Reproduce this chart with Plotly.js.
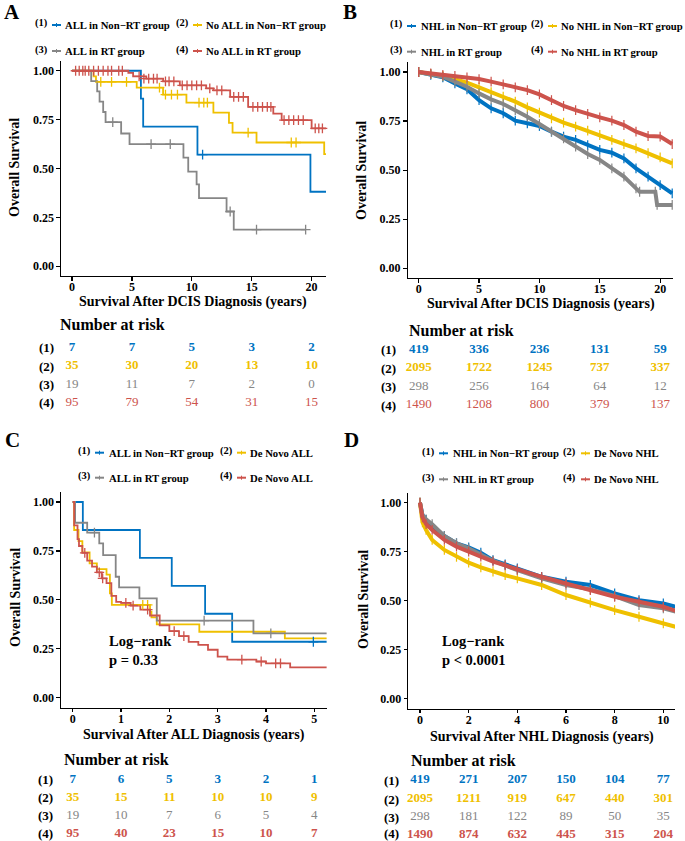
<!DOCTYPE html>
<html><head><meta charset="utf-8">
<script src="https://cdn.plot.ly/plotly-3.0.1.min.js"></script>
<style>html,body{margin:0;padding:0;background:#fff}</style>
</head><body><div id="chart" style="width:685px;height:841px"></div>
<script>
// ---------- DATA ----------
const groupColors = ['#0073C2', '#EFC000', '#868686', '#CD534C'];

// Panel A (DCIS, ALL)
const aLegend = ['ALL in Non\u2212RT group', 'No ALL in Non\u2212RT group', 'ALL in RT group', 'No ALL in RT group'];
const a1T = [0, 5.75, 5.94, 10.47, 19.9, 21.2];
const a1S = [1, 0.857, 0.714, 0.571, 0.381, 0.381];
const a2T = [0, 1.8, 2.0, 5.4, 7.6, 9.55, 11.8, 13.1, 13.4, 15.4, 21.05, 21.2];
const a2S = [1, 0.971, 0.943, 0.914, 0.878, 0.837, 0.786, 0.733, 0.684, 0.633, 0.574, 0.574];
const a3T = [0, 1.6, 2.1, 2.3, 2.6, 2.8, 4.1, 4.8, 9.3, 9.7, 10.4, 10.6, 12.9, 13.5, 19.5];
const a3S = [1, 0.947, 0.895, 0.842, 0.789, 0.737, 0.679, 0.625, 0.556, 0.484, 0.419, 0.348, 0.28, 0.187, 0.187];
const a4T = [0, 4.7, 5.1, 6.2, 7.6, 9.0, 11.2, 11.8, 13.2, 14.7, 16.8, 17.5, 20.0, 21.2];
const a4S = [1, 0.989, 0.971, 0.96, 0.946, 0.925, 0.91, 0.9, 0.866, 0.815, 0.781, 0.747, 0.705, 0.705];
const a1CensT = [10.9]; const a1CensS = [0.571];
const a2CensT = [2.4, 3.3, 4.55, 7.3, 7.8, 8.3, 8.8, 10.6, 11.0, 11.3, 14.7, 18.3, 18.7];
const a2CensS = [0.943, 0.943, 0.943, 0.914, 0.878, 0.878, 0.878, 0.837, 0.837, 0.837, 0.684, 0.633, 0.633];
const a3CensT = [3.4, 6.6, 8.2, 13.2, 15.4, 19.5];
const a3CensS = [0.737, 0.625, 0.625, 0.28, 0.187, 0.187];
const a4CensT = [0.3, 0.6, 0.9, 1.1, 1.4, 1.8, 2.2, 2.6, 3.0, 3.3, 3.9, 4.2, 5.6, 6.0, 6.4, 6.8, 7.1, 7.8, 8.1, 8.5, 9.2, 9.6, 10.0, 10.4, 10.8, 11.5, 12.1, 12.5, 13.5, 13.9, 14.3, 15.1, 15.5, 15.9, 16.3, 16.6, 17.7, 18.1, 18.5, 18.9, 19.3, 20.3, 20.6, 20.9];
const a4CensS = [1, 1, 1, 1, 1, 1, 1, 1, 1, 1, 1, 1, 0.971, 0.96, 0.96, 0.96, 0.96, 0.946, 0.946, 0.946, 0.925, 0.925, 0.925, 0.925, 0.925, 0.91, 0.9, 0.9, 0.866, 0.866, 0.866, 0.815, 0.815, 0.815, 0.815, 0.815, 0.747, 0.747, 0.747, 0.747, 0.747, 0.705, 0.705, 0.705];

// Panel B (DCIS, NHL)
const bLegend = ['NHL in Non\u2212RT group', 'No NHL in Non\u2212RT group', 'NHL in RT group', 'No NHL in RT group'];
const bT = [0, 1, 2, 3, 4, 5, 6, 7, 8, 9, 10, 11, 12, 13, 14, 15, 16, 17, 18, 19, 20, 21];
const b1S = [1, 0.985, 0.973, 0.942, 0.912, 0.857, 0.815, 0.79, 0.752, 0.739, 0.725, 0.696, 0.671, 0.654, 0.628, 0.603, 0.589, 0.56, 0.509, 0.467, 0.424, 0.382];
const b2S = [1, 0.99, 0.98, 0.963, 0.946, 0.922, 0.898, 0.874, 0.849, 0.82, 0.793, 0.764, 0.742, 0.722, 0.701, 0.679, 0.654, 0.633, 0.611, 0.586, 0.565, 0.535];
const b3T = [0, 1, 2, 3, 4, 5, 6, 7, 8, 9, 10, 11, 12, 13, 14, 15, 16, 17, 18, 18.3, 19.6, 19.75, 21];
const b3S = [1, 0.99, 0.976, 0.951, 0.925, 0.891, 0.861, 0.837, 0.806, 0.772, 0.735, 0.696, 0.662, 0.62, 0.582, 0.552, 0.509, 0.467, 0.407, 0.39, 0.39, 0.323, 0.323];
const b4S = [1, 0.993, 0.985, 0.98, 0.973, 0.964, 0.951, 0.937, 0.922, 0.908, 0.886, 0.857, 0.827, 0.806, 0.786, 0.769, 0.752, 0.73, 0.696, 0.674, 0.671, 0.633];

// Panel C (ALL diagnosis)
const cLegend = ['ALL in Non\u2212RT group', 'De Novo ALL', 'ALL in RT group', 'De Novo ALL'];
const c1T = [0, 0.21, 1.39, 2.05, 2.74, 3.3, 5.26];
const c1S = [1, 0.857, 0.714, 0.571, 0.429, 0.286, 0.286];
const c2T = [0, 0.03, 0.12, 0.2, 0.35, 0.5, 0.7, 0.77, 0.81, 1.6, 1.63, 1.74, 2.62, 4.39, 5.26];
const c2S = [1, 0.857, 0.8, 0.743, 0.686, 0.657, 0.629, 0.533, 0.474, 0.44, 0.41, 0.375, 0.337, 0.303, 0.303];
const c3T = [0, 0.05, 0.3, 0.55, 0.63, 0.89, 0.96, 1.38, 1.74, 3.74, 5.26];
const c3S = [1, 0.894, 0.843, 0.789, 0.729, 0.618, 0.564, 0.508, 0.394, 0.329, 0.329];
const c4T = [0, 0.03, 0.1, 0.13, 0.2, 0.3, 0.4, 0.5, 0.6, 0.7, 0.8, 0.9, 1.0, 1.2, 1.4, 1.6, 1.8, 2.0, 2.2, 2.4, 2.6, 2.8, 3.0, 3.2, 3.8, 4.0, 4.5, 5.26];
const c4S = [1, 0.88, 0.81, 0.775, 0.74, 0.70, 0.67, 0.64, 0.61, 0.585, 0.52, 0.49, 0.485, 0.47, 0.45, 0.42, 0.37, 0.34, 0.315, 0.285, 0.27, 0.245, 0.21, 0.195, 0.185, 0.175, 0.155, 0.155];
const c1CensT = [4.98]; const c1CensS = [0.286];
const c2CensT = [1.45, 1.55]; const c2CensS = [0.474, 0.474];
const c3CensT = [0.45, 2.72, 4.1]; const c3CensS = [0.843, 0.394, 0.329];
const c4CensT = [0.25, 0.55, 0.62, 1.1, 1.25, 1.55, 2.1, 2.3, 3.5, 3.9, 4.2, 4.3];
const c4CensS = [0.74, 0.64, 0.61, 0.485, 0.47, 0.45, 0.34, 0.315, 0.195, 0.185, 0.175, 0.175];

// Panel D (NHL diagnosis)
const dLegend = ['NHL in Non\u2212RT group', 'De Novo NHL', 'NHL in RT group', 'De Novo NHL'];
const dT = [0, 0.05, 0.1, 0.25, 0.5, 1, 1.5, 2, 2.5, 3, 3.5, 4, 5, 6, 7, 8, 9, 10, 10.5];
const d1S = [1, 0.96, 0.937, 0.912, 0.878, 0.83, 0.793, 0.772, 0.745, 0.707, 0.685, 0.665, 0.622, 0.597, 0.58, 0.537, 0.503, 0.486, 0.469];
const d2S = [1, 0.94, 0.9, 0.861, 0.81, 0.759, 0.724, 0.694, 0.67, 0.648, 0.63, 0.614, 0.58, 0.529, 0.49, 0.452, 0.418, 0.384, 0.367];
const d3S = [1, 0.95, 0.935, 0.915, 0.89, 0.83, 0.793, 0.767, 0.735, 0.704, 0.68, 0.656, 0.614, 0.58, 0.558, 0.524, 0.478, 0.461, 0.444];
const d4S = [1, 0.95, 0.925, 0.891, 0.861, 0.81, 0.776, 0.75, 0.725, 0.699, 0.68, 0.66, 0.622, 0.588, 0.554, 0.52, 0.495, 0.469, 0.449];

// Risk tables
const riskATimes = [0, 5, 10, 15, 20];
const riskA = [[7, 7, 5, 3, 2], [35, 30, 20, 13, 10], [19, 11, 7, 2, 0], [95, 79, 54, 31, 15]];
const riskBTimes = [0, 5, 10, 15, 20];
const riskB = [[419, 336, 236, 131, 59], [2095, 1722, 1245, 737, 337], [298, 256, 164, 64, 12], [1490, 1208, 800, 379, 137]];
const riskCTimes = [0, 1, 2, 3, 4, 5];
const riskC = [[7, 6, 5, 3, 2, 1], [35, 15, 11, 10, 10, 9], [19, 10, 7, 6, 5, 4], [95, 40, 23, 15, 10, 7]];
const riskDTimes = [0, 2, 4, 6, 8, 10];
const riskD = [[419, 271, 207, 150, 104, 77], [2095, 1211, 919, 647, 440, 301], [298, 181, 122, 89, 50, 35], [1490, 874, 632, 445, 315, 204]];

const xTitles = ['Survival After DCIS Diagnosis (years)', 'Survival After DCIS Diagnosis (years)', 'Survival After ALL Diagnosis (years)', 'Survival After NHL Diagnosis (years)'];
const yTitle = 'Overall Survival';
const panelLetters = ['A', 'B', 'C', 'D'];
const rowLabels = ['(1)', '(2)', '(3)', '(4)'];

// ---------- BUILD ----------
const F = 'Liberation Serif, Times New Roman, serif';
const X = p => p / 685;
const Y = p => 1 - p / 841;
const traces = [];
const annotations = [];
const shapes = [];
const layout = {
  width: 685, height: 841, margin: {l: 0, r: 0, t: 0, b: 0},
  paper_bgcolor: '#fff', plot_bgcolor: '#fff', showlegend: false,
  annotations, shapes
};

function mainAxes(n, xd, yd, xr, tickvals) {
  const xs = n === 1 ? 'xaxis' : 'xaxis' + n;
  const ys = n === 1 ? 'yaxis' : 'yaxis' + n;
  const common = {showline: true, linecolor: '#000', linewidth: 1.2, ticks: 'outside', ticklen: 3.5,
    tickwidth: 1.2, tickcolor: '#000', showgrid: false, zeroline: false, fixedrange: true,
    tickfont: {family: F, size: 12, weight: 'bold', color: '#000'}};
  layout[xs] = Object.assign({}, common, {domain: [X(xd[0]), X(xd[1])], range: xr, tickvals: tickvals,
    ticktext: tickvals.map(String), anchor: 'y' + (n === 1 ? '' : n), ticklabelstandoff: -4});
  layout[ys] = Object.assign({}, common, {domain: [Y(yd[1]), Y(yd[0])], range: [-0.05, 1.05],
    tickvals: [0, 0.25, 0.5, 0.75, 1], ticktext: ['0.00', '0.25', '0.50', '0.75', '1.00'],
    anchor: 'x' + (n === 1 ? '' : n)});
}
function tableAxes(n, xd, yd, xr, yr) {
  layout['xaxis' + n] = {domain: [X(xd[0]), X(xd[1])], range: xr, visible: false, fixedrange: true, anchor: 'y' + n};
  layout['yaxis' + n] = {domain: [Y(yd[1]), Y(yd[0])], range: yr, visible: false, fixedrange: true, anchor: 'x' + n};
}
function ax(n) { return n === 1 ? ['x', 'y'] : ['x' + n, 'y' + n]; }

function curve(n, t, s, color, shape, width) {
  const [xa, ya] = ax(n);
  traces.push({type: 'scatter', mode: 'lines', x: t, y: s, xaxis: xa, yaxis: ya,
    line: {color: color, width: width, shape: shape}, hoverinfo: 'skip', cliponaxis: false});
}
function censor(n, t, s, color, size) {
  const [xa, ya] = ax(n);
  traces.push({type: 'scatter', mode: 'markers', x: t, y: s, xaxis: xa, yaxis: ya,
    marker: {symbol: 'cross-thin-open', size: size, color: color, line: {color: color, width: 1.3}},
    hoverinfo: 'skip', cliponaxis: false});
}
function denseCurve(n, t, s, color) {
  const [xa, ya] = ax(n);
  traces.push({type: 'scatter', mode: 'lines+markers', x: t, y: s, xaxis: xa, yaxis: ya,
    line: {color: color, width: 4, shape: 'linear'},
    marker: {symbol: 'line-ns-open', size: 7, color: color, line: {color: color, width: 1.2}},
    hoverinfo: 'skip', cliponaxis: false});
}
function table(n, times, rows, weights) {
  const [xa, ya] = ax(n);
  rows.forEach((r, i) => {
    traces.push({type: 'scatter', mode: 'text', x: times, y: times.map(() => i + 1), xaxis: xa, yaxis: ya,
      text: r.map(String), textposition: 'middle center', cliponaxis: false, hoverinfo: 'skip',
      textfont: {family: F, size: 13, color: groupColors[i], weight: weights[i]}});
  });
}
function ann(x, y, text, opts) {
  annotations.push(Object.assign({xref: 'paper', yref: 'paper', x: X(x), y: Y(y), text: text, showarrow: false,
    xanchor: 'center', yanchor: 'middle', font: {family: F, size: 12, color: '#000', weight: 'bold'}}, opts || {}));
}
function legendEntry(labelRight, keyL, keyR, textL, y, label, text, color) {
  ann(labelRight, y - 1.5, label, {xanchor: 'right', font: {family: F, size: 10.5, color: '#000', weight: 'bold'}});
  shapes.push({type: 'line', xref: 'paper', yref: 'paper', x0: X(keyL), x1: X(keyR), y0: Y(y), y1: Y(y),
    line: {color: color, width: 2}});
  shapes.push({type: 'line', xref: 'paper', yref: 'paper', x0: X((keyL + keyR) / 2), x1: X((keyL + keyR) / 2),
    y0: Y(y - 2), y1: Y(y + 2), line: {color: color, width: 1}});
  ann(textL, y, text, {xanchor: 'left', font: {family: F, size: 10.7, color: '#000', weight: 'bold'}});
}

// ---- Panel A ----
mainAxes(1, [61, 326], [61, 276], [-0.92, 21.2], [0, 5, 10, 15, 20]);
tableAxes(2, [61, 326], [338.5, 411.9], [-0.92, 21.2], [4.5, 0.5]);
curve(1, a1T, a1S, groupColors[0], 'hv', 1.8);
curve(1, a2T, a2S, groupColors[1], 'hv', 1.8);
curve(1, a3T, a3S, groupColors[2], 'hv', 1.8);
curve(1, a4T, a4S, groupColors[3], 'hv', 1.8);
censor(1, a1CensT, a1CensS, groupColors[0], 7);
censor(1, a2CensT, a2CensS, groupColors[1], 7);
censor(1, a3CensT, a3CensS, groupColors[2], 7);
censor(1, a4CensT, a4CensS, groupColors[3], 7);
table(2, riskATimes, riskA, ['bold', 'bold', 'normal', 'normal']);

// ---- Panel B ----
mainAxes(3, [407.7, 673.3], [62.2, 278.1], [-0.91, 21.09], [0, 5, 10, 15, 20]);
tableAxes(4, [407.7, 673.3], [340.0, 414.3], [-0.91, 21.09], [4.5, 0.5]);
denseCurve(3, bT, b1S, groupColors[0]);
denseCurve(3, bT, b2S, groupColors[1]);
denseCurve(3, b3T, b3S, groupColors[2]);
denseCurve(3, bT, b4S, groupColors[3]);
table(4, riskBTimes, riskB, ['bold', 'bold', 'normal', 'normal']);

// ---- Panel C ----
mainAxes(5, [61, 326.7], [492.2, 707.5], [-0.242, 5.256], [0, 1, 2, 3, 4, 5]);
tableAxes(6, [61, 326.7], [770.2, 841], [-0.242, 5.256], [4.39, 0.5]);
curve(5, c1T, c1S, groupColors[0], 'hv', 1.8);
curve(5, c2T, c2S, groupColors[1], 'hv', 1.8);
curve(5, c3T, c3S, groupColors[2], 'hv', 1.8);
curve(5, c4T, c4S, groupColors[3], 'hv', 1.8);
censor(5, c1CensT, c1CensS, groupColors[0], 7);
censor(5, c2CensT, c2CensS, groupColors[1], 7);
censor(5, c3CensT, c3CensS, groupColors[2], 7);
censor(5, c4CensT, c4CensS, groupColors[3], 7);
table(6, riskCTimes, riskC, ['bold', 'bold', 'normal', 'bold']);

// ---- Panel D ----
mainAxes(7, [408.3, 675], [492.9, 708.5], [-0.481, 10.48], [0, 2, 4, 6, 8, 10]);
tableAxes(8, [408.3, 675], [770.8, 841], [-0.481, 10.48], [4.33, 0.5]);
denseCurve(7, dT, d1S, groupColors[0]);
denseCurve(7, dT, d2S, groupColors[1]);
denseCurve(7, dT, d3S, groupColors[2]);
denseCurve(7, dT, d4S, groupColors[3]);
table(8, riskDTimes, riskD, ['bold', 'bold', 'normal', 'bold']);

// ---- Text: panel letters, axis titles ----
[[12, 12], [350, 12], [12, 440], [351, 440]].forEach((p, i) =>
  ann(p[0], p[1], panelLetters[i], {font: {family: F, size: 21, color: '#000', weight: 'bold'}}));
[[193.5, 302], [540.5, 304.5], [194, 734.5], [541.6, 736.5]].forEach((p, i) =>
  ann(p[0], p[1], xTitles[i], {font: {family: F, size: 14, color: '#000', weight: 'bold'}}));
[[15, 168], [361, 170], [15, 598], [363, 600]].forEach(p =>
  ann(p[0], p[1], yTitle, {textangle: -90, font: {family: F, size: 14, color: '#000', weight: 'bold'}}));

// Number at risk headers and row labels
[[58, 324], [406.7, 330], [61.7, 759.3], [409, 760]].forEach(p =>
  ann(p[0], p[1], 'Number at risk', {xanchor: 'left', font: {family: F, size: 16, color: '#000', weight: 'bold'}}));
const rowY = [[347.7, 366, 384.3, 402.7], [349.3, 368.3, 386.7, 405], [779.3, 797.3, 815.7, 833.5], [780, 799, 817.3, 833.5]];
const rowX = [46.7, 388.3, 45, 391.7];
rowY.forEach((ys, p) => ys.forEach((y, i) =>
  ann(rowX[p], y, rowLabels[i], {font: {family: F, size: 13, color: '#000', weight: 'bold'}})));

// Log-rank
ann(107, 640.7, 'Log\u2212rank', {xanchor: 'left', font: {family: F, size: 14.5, color: '#000', weight: 'bold'}});
ann(107, 660, 'p = 0.33', {xanchor: 'left', font: {family: F, size: 14.5, color: '#000', weight: 'bold'}});
ann(440, 640.7, 'Log\u2212rank', {xanchor: 'left', font: {family: F, size: 14.5, color: '#000', weight: 'bold'}});
ann(440, 660, 'p < 0.0001', {xanchor: 'left', font: {family: F, size: 14.5, color: '#000', weight: 'bold'}});

// Legends
const legendGeom = [
  {rows: [25, 51], cols: [[50, 52, 61, 63], [191, 193, 202, 204]], names: aLegend},
  {rows: [26, 51.7], cols: [[405, 407, 416, 419], [546, 548, 557, 559]], names: bLegend},
  {rows: [452.7, 477.7], cols: [[93, 95, 104, 107], [235, 237, 246, 248]], names: cLegend},
  {rows: [453.3, 479.3], cols: [[437, 439, 448, 451], [578, 581, 590, 592]], names: dLegend}
];
legendGeom.forEach(g => {
  for (let i = 0; i < 4; i++) {
    const r = Math.floor(i / 2), c = i % 2;
    const col = g.cols[c];
    legendEntry(col[0], col[1], col[2], col[3], g.rows[r], rowLabels[i], g.names[i], groupColors[i]);
  }
});

Plotly.newPlot('chart', traces, layout, {staticPlot: true, displayModeBar: false});
</script></body></html>
